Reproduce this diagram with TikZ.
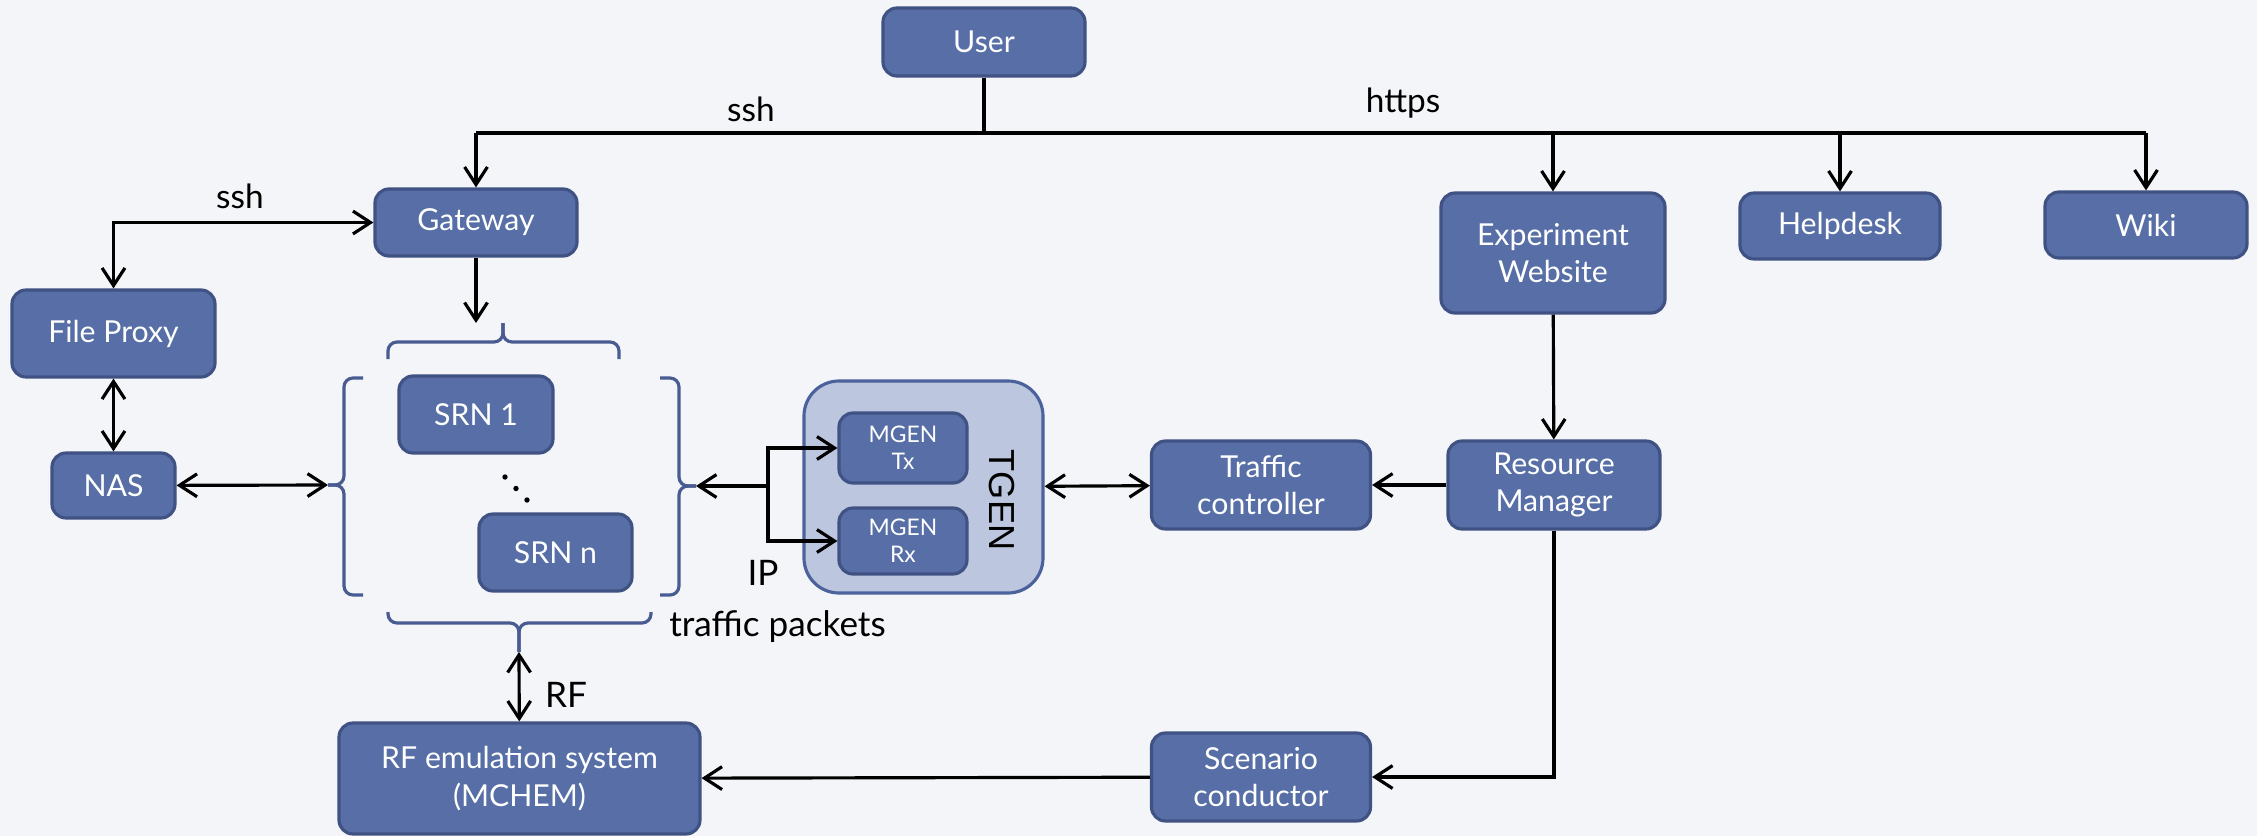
\documentclass[tikz,border=0pt]{standalone}
\usepackage{fontspec}
\setmainfont{Lato}
\newfontfamily\tgenfont{Liberation Sans}
\usetikzlibrary{arrows.meta}
\definecolor{bgcol}{RGB}{244,245,248}
\definecolor{boxfill}{RGB}{87,111,166}
\definecolor{boxline}{RGB}{64,82,132}
\definecolor{tgenfill}{RGB}{188,198,222}
\definecolor{tgenline}{RGB}{76,98,156}
\definecolor{bracecol}{RGB}{72,92,145}
\tikzset{
  blk/.style={draw=boxline,fill=boxfill,rounded corners=1.4mm,text=white,align=center,
    inner sep=1pt,line width=0.9pt,font=\fontsize{8.6}{10.6}\selectfont},
  mgen/.style={blk,font=\fontsize{6.5}{7.6}\selectfont},
  lbl/.style={font=\fontsize{9.5}{11}\selectfont},
  biglbl/.style={font=\fontsize{10}{12}\selectfont},
  brc/.style={draw=bracecol,line width=0.9pt,rounded corners=0.9mm},
}

\begin{document}
\begin{tikzpicture}[x=0.1mm,y=-0.1mm,line width=0.9pt,>={Straight Barb[length=5pt,width=6.5pt]}]
\useasboundingbox (0,0) rectangle (2257,836);
\fill[bgcol] (0,0) rectangle (2257,836);

% boxes
\node[blk,minimum width=20.2mm,minimum height=6.8mm] (user) at (984,42) {User};
\node[blk,minimum width=20.2mm,minimum height=6.7mm] (gw) at (476,222.5) {Gateway};
\node[blk,minimum width=20.3mm,minimum height=8.7mm] (fp) at (113.5,333.5) {File Proxy};
\node[blk,minimum width=12.3mm,minimum height=6.5mm] (nas) at (113.5,485.5) {NAS};
\node[blk,minimum width=15.4mm,minimum height=7.7mm] (srnA) at (476,414.5) {SRN 1};
\node[blk,minimum width=15.3mm,minimum height=7.7mm] (srnB) at (555.5,552.5) {SRN n};
\node[blk,draw=tgenline,fill=tgenfill,rounded corners=3.5mm,minimum width=23.9mm,minimum height=21.2mm] (tgen) at (923.5,487) {};
\node[mgen,minimum width=12.8mm,minimum height=7mm] (tx) at (903,448) {MGEN\\Tx};
\node[mgen,minimum width=12.8mm,minimum height=6.6mm] (rx) at (903,541) {MGEN\\Rx};
\node[rotate=-90,font=\tgenfont\fontsize{10.3}{12}\selectfont] (tgenlbl) at (1002,500) {TGEN};
\node[blk,minimum width=21.9mm,minimum height=8.8mm] (tc) at (1261,485) {Traffic\\controller};
\node[blk,minimum width=21.2mm,minimum height=8.8mm] (rm) at (1554,485) {Resource\\Manager};
\node[blk,minimum width=22.4mm,minimum height=12mm] (ew) at (1553,253) {Experiment\\Website};
\node[blk,minimum width=20mm,minimum height=6.6mm] (hd) at (1840,226) {Helpdesk};
\node[blk,minimum width=20.2mm,minimum height=6.6mm] (wiki) at (2146,225) {Wiki};
\node[blk,minimum width=21.9mm,minimum height=8.8mm] (sc) at (1261,777) {Scenario\\conductor};
\node[blk,minimum width=36.1mm,minimum height=11.1mm] (rf) at (519.5,778.5) {RF emulation system\\(MCHEM)};

% dots between the SRNs
\foreach \d in {0,1,2}
  \fill ({505+11*\d},{477+11.5*\d}) circle (0.27mm);

% braces round the SRNs
\coordinate (ttip) at (503,323);
\coordinate (ltip) at (328,485);
\coordinate (rtip) at (696,486);
\coordinate (btip) at (519,652);
\draw[brc] (388,359) |- (503,342) -- (ttip);
\draw[brc] (ttip) -- (503,342) -| (619,359);
\draw[brc] (363,378) -| (344,485) -- (ltip);
\draw[brc] (ltip) -- (344,485) |- (363,595);
\draw[brc] (660,378) -| (679,486) -- (rtip);
\draw[brc] (rtip) -- (679,486) |- (660,595);
\draw[brc] (388,612) |- (519,623) -- (btip);
\draw[brc] (btip) -- (519,623) -| (651,612);

% ssh / https bus
\coordinate (hubL) at (476,133);
\coordinate (hubR) at (2146,133);
\draw (user) -- (user |- hubL);
\draw[line width=1.2pt] (hubL) -- (hubR);
\draw[->] (hubL) -- (gw);
\draw[->] (ew |- hubL) -- (ew);
\draw[->] (hd |- hubL) -- (hd);
\draw[->] (hubR) -- (wiki);
\node[lbl] (sshA) at (751,109) {ssh};
\node[lbl] (https) at (1403,103) {https};

% left side
\draw[<->] (fp) |- (gw);
\node[lbl] (sshB) at (240,196) {ssh};
\draw[<->] (fp) -- (nas);
\draw[<->] (nas) -- (ltip);
\draw[->] (gw) -- (gw |- ttip);

% traffic generator
\coordinate (split) at (768,486);
\draw[->] (split) -- (rtip);
\draw[->] (split) |- (tx);
\draw[->] (split) |- (rx);
\node[biglbl] (ip) at (763,573) {IP};
\node[biglbl,anchor=west] (pkts) at (656,627) {traffic packets};
\draw[<->] (tgen) -- (tc);
\draw[->] (rm) -- (tc);
\draw[->] (ew) -- (rm);
\draw[->] (rm) |- (sc);
\draw[->] (sc) -- (rf);
\draw[<->] (btip) -- (rf);
\node[biglbl] (rflbl) at (566,695) {RF};
\end{tikzpicture}
\end{document}
